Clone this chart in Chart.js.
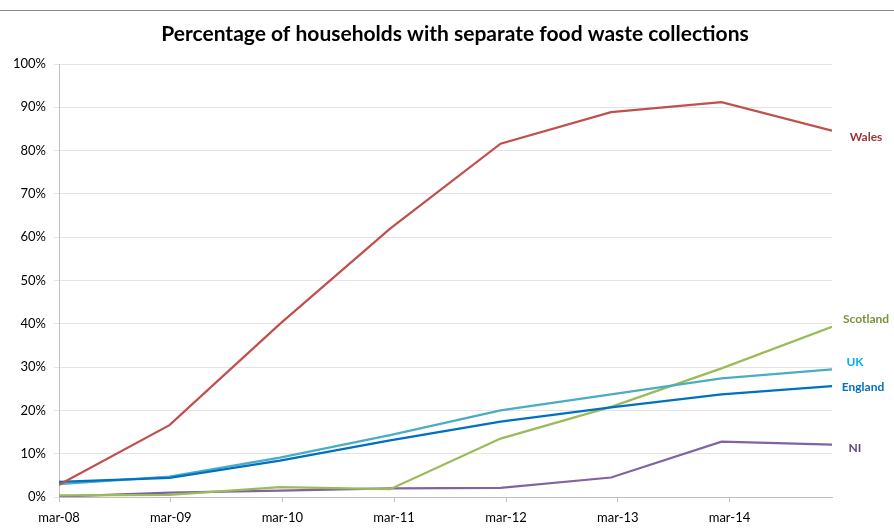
<!DOCTYPE html>
<html lang="en">
<head>
    <meta charset="UTF-8">
    <title>Food waste collections</title>
    <script src="https://cdn.jsdelivr.net/npm/chart.js@4"></script>
    <style>
        body { margin: 0; background: #fff; }
        canvas { display: block; }
    </style>
</head>
<body>

<canvas id="wasteChart" width="894" height="529"></canvas>

<script>
    // survey dates and share of households (%) per nation
    const surveyDates = ['2008-03-01', '2009-02-25', '2010-02-21', '2011-02-16',
                         '2012-02-12', '2013-02-07', '2014-02-03', '2015-01-30'];
    const wales    = [2.8, 16.6, 40.0, 62.0, 81.6, 88.9, 91.2, 84.6];
    const scotland = [0.4, 0.5, 2.3, 1.8, 13.5, 20.8, 29.7, 39.3];
    const uk       = [3.0, 4.7, 9.1, 14.3, 20.0, 23.7, 27.4, 29.5];
    const england  = [3.5, 4.4, 8.4, 13.1, 17.4, 20.7, 23.7, 25.6];
    const ni       = [0.1, 1.0, 1.5, 2.0, 2.1, 4.5, 12.8, 12.1];

    const tickDates  = ['2008-03-01', '2009-03-01', '2010-03-01', '2011-03-01',
                        '2012-03-01', '2013-03-01', '2014-03-01'];
    const tickLabels = ['mar-08', 'mar-09', 'mar-10', 'mar-11', 'mar-12', 'mar-13', 'mar-14'];

    const chartTitle = 'Percentage of households with separate food waste collections';

    const toDay = s => Date.parse(s) / 86400000;
    const points = vals => vals.map((v, i) => ({ x: toDay(surveyDates[i]), y: v }));

    function series(label, vals, color, tagColor, tagX, tagDy) {
        return {
            label: label,
            data: points(vals),
            borderColor: color,
            borderWidth: 2.25,
            pointRadius: 0,
            tension: 0,
            fill: false,
            endTag: { color: tagColor, x: tagX, dy: tagDy }
        };
    }

    // names written at the right end of each line
    const endTags = {
        id: 'endTags',
        afterDatasetsDraw(chart) {
            const c = chart.ctx;
            c.save();
            c.font = 'bold 12px Lato';
            c.textAlign = 'center';
            c.textBaseline = 'middle';
            chart.data.datasets.forEach((ds, i) => {
                const meta = chart.getDatasetMeta(i);
                const last = meta.data[meta.data.length - 1];
                c.fillStyle = ds.endTag.color;
                c.fillText(ds.label, ds.endTag.x, last.y + ds.endTag.dy);
            });
            c.restore();
        }
    };

    // thin rule across the top and the title centred on the whole frame
    const frame = {
        id: 'frame',
        beforeDraw(chart) {
            const c = chart.ctx;
            c.save();
            c.fillStyle = '#8a8a8a';
            c.fillRect(0, 10, chart.width, 1);
            c.fillStyle = '#000';
            c.font = 'bold 21px Lato';
            c.textAlign = 'center';
            c.textBaseline = 'middle';
            c.fillText(chartTitle, 455, 34);
            c.restore();
        }
    };

    const ctx = document.getElementById('wasteChart').getContext('2d');
    const chart = new Chart(ctx, {
        type: 'line',
        data: {
            datasets: [
                series('Wales', wales, '#C0504D', '#953735', 866, 6),
                series('England', england, '#0070C0', '#0070C0', 863, 1),
                series('UK', uk, '#4BACC6', '#00B0F0', 855, -7),
                series('Scotland', scotland, '#9BBB59', '#77933C', 866, -8),
                series('NI', ni, '#8064A2', '#5F497A', 855, 4)
            ]
        },
        options: {
            responsive: false,
            animation: false,
            devicePixelRatio: 1,
            layout: { padding: { left: 0, right: 62, top: 64, bottom: 0 } },
            plugins: {
                legend: { display: false },
                tooltip: { enabled: false },
                title: { display: false }
            },
            scales: {
                x: {
                    type: 'linear',
                    min: toDay(surveyDates[0]),
                    max: toDay(surveyDates[surveyDates.length - 1]),
                    afterBuildTicks: scale => {
                        scale.ticks = tickDates.map(d => ({ value: toDay(d) }));
                    },
                    afterFit: scale => { scale.height = 32; },
                    ticks: {
                        autoSkip: false,
                        maxRotation: 0,
                        padding: 8,
                        color: '#000',
                        font: { family: 'Lato', size: 13 },
                        callback: (v, i) => tickLabels[i]
                    },
                    grid: {
                        drawOnChartArea: false,
                        drawTicks: true,
                        tickLength: 5,
                        color: '#BFBFBF'
                    },
                    border: { display: true, color: '#BFBFBF' }
                },
                y: {
                    min: 0,
                    max: 100,
                    afterFit: scale => { scale.width = 59; },
                    ticks: {
                        stepSize: 10,
                        padding: 8,
                        color: '#000',
                        font: { family: 'Lato', size: 13 },
                        callback: v => v + '%'
                    },
                    grid: {
                        color: '#E4E4E4',
                        tickLength: 5
                    },
                    border: { display: true, color: '#BFBFBF' }
                }
            }
        },
        plugins: [frame, endTags]
    });
</script>

</body>
</html>
